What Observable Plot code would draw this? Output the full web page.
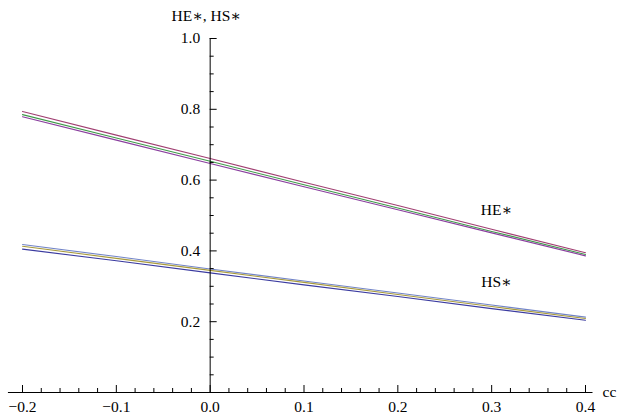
<!DOCTYPE html>
<html>
<head>
<meta charset="utf-8">
<script src="https://cdn.jsdelivr.net/npm/d3@7"></script>
<script src="https://cdn.jsdelivr.net/npm/@observablehq/plot@0.6"></script>
<style>
  html, body { margin: 0; padding: 0; background: #fff; }
  svg { display: block; }
  svg text { font-family: "Liberation Serif", "DejaVu Serif", serif !important; }
</style>
</head>
<body>
<div id="chart"></div>
<script>
// ---- data ----
const cc = [-0.2, -0.1, 0, 0.1, 0.2, 0.3, 0.4];

const he1 = [0.794, 0.727, 0.661, 0.594, 0.528, 0.461, 0.395];
const he2 = [0.785, 0.719, 0.653, 0.587, 0.521, 0.455, 0.390];
const he3 = [0.779, 0.713, 0.647, 0.581, 0.516, 0.451, 0.386];

const hs1 = [0.418, 0.384, 0.349, 0.315, 0.281, 0.247, 0.213];
const hs2 = [0.413, 0.379, 0.345, 0.311, 0.277, 0.243, 0.209];
const hs3 = [0.405, 0.372, 0.338, 0.304, 0.271, 0.237, 0.204];

const seriesNames = ["HE a", "HE b", "HE c", "HS a", "HS b", "HS c"];
const seriesValues = [he1, he2, he3, hs1, hs2, hs3];
const seriesColors = ["#a13f72", "#3f9a4a", "#8a3f9e", "#7284c8", "#a89a3c", "#3b3ba0"];

const xMajor = [-0.2, -0.1, 0.0, 0.1, 0.2, 0.3, 0.4];
const xMinor = d3.range(-0.2, 0.4001, 0.02).map(v => +v.toFixed(2)).filter(v => !xMajor.some(m => Math.abs(m - v) < 1e-9));
const yMajor = [0.2, 0.4, 0.6, 0.8, 1.0];
const yMinor = d3.range(0.05, 1.0001, 0.05).map(v => +v.toFixed(2)).filter(v => !yMajor.some(m => Math.abs(m - v) < 1e-9));

const curveLabels = [
  {x: 0.305, y: 0.515, text: "HE\u2217"},
  {x: 0.305, y: 0.313, text: "HS\u2217"}
];
const axisTitleY = "HE\u2217, HS\u2217";
const axisTitleX = "cc";
const xAxisExtent = [-0.215, 0.408];

// ---- build table ----
const rows = [];
seriesNames.forEach((name, i) => {
  cc.forEach((c, j) => rows.push({series: name, cc: c, v: seriesValues[i][j]}));
});

const font = "Liberation Serif, DejaVu Serif, serif";
const fmt = d3.format(".1f");

const chart = Plot.plot({
  width: 620,
  height: 416,
  marginLeft: 22,
  marginRight: 35,
  marginTop: 38,
  marginBottom: 24,
  style: {fontFamily: font, fontSize: "15px", color: "#000", background: "#fff"},
  x: {domain: [-0.2, 0.4], axis: null},
  y: {domain: [0, 1], axis: null},
  color: {domain: seriesNames, range: seriesColors},
  marks: [
    // curves
    Plot.line(rows, {x: "cc", y: "v", z: "series", stroke: "series", strokeWidth: 1.1}),
    // axes lines
    Plot.ruleY([0], {x1: xAxisExtent[0], x2: xAxisExtent[1], stroke: "#000", strokeWidth: 1}),
    Plot.ruleX([0], {y1: 0, y2: 1, stroke: "#000", strokeWidth: 1}),
    // x ticks
    Plot.ruleX(xMajor, {x: d => d, y1: 0, y2: 0, insetTop: -7, stroke: "#000", strokeWidth: 1}),
    Plot.ruleX(xMinor, {x: d => d, y1: 0, y2: 0, insetTop: -4, stroke: "#000", strokeWidth: 1}),
    // y ticks
    Plot.ruleY(yMajor, {y: d => d, x1: 0, x2: 0, insetRight: -7, stroke: "#000", strokeWidth: 1}),
    Plot.ruleY(yMinor, {y: d => d, x1: 0, x2: 0, insetRight: -4, stroke: "#000", strokeWidth: 1}),
    // tick labels
    Plot.text(xMajor, {x: d => d, y: 0, text: d => fmt(d), dy: 15, fontSize: 15.5, fontFamily: font, fill: "#000"}),
    Plot.text(yMajor, {x: 0, y: d => d, text: d => fmt(d), dx: -10, textAnchor: "end", fontSize: 15.5, fontFamily: font, fill: "#000"}),
    // axis titles
    Plot.text([axisTitleY], {x: 0, y: 1, text: d => d, dx: -4, dy: -22, fontSize: 15.5, fontFamily: font, fill: "#000"}),
    Plot.text([axisTitleX], {x: 0.4, y: 0, text: d => d, dx: 17, dy: 0, textAnchor: "start", fontSize: 15.5, fontFamily: font, fill: "#000"}),
    // curve labels
    Plot.text(curveLabels, {x: "x", y: "y", text: "text", fontSize: 15.5, fontFamily: font, fill: "#000"})
  ]
});

document.getElementById("chart").appendChild(chart);
</script>
</body>
</html>
